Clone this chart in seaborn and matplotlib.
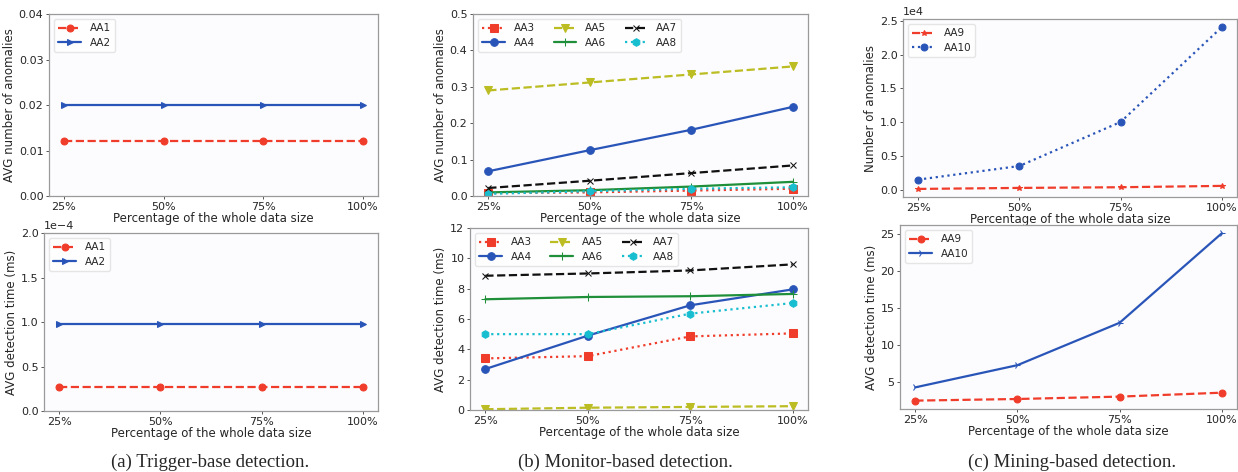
import numpy as np
import pandas as pd
import seaborn as sns
import matplotlib.pyplot as plt

# x categories
pcts = ['25%', '50%', '75%', '100%']

# (a) trigger-based
aa1_num = [0.012, 0.012, 0.012, 0.012]
aa2_num = [0.020, 0.020, 0.020, 0.020]
aa1_time = [0.27e-4, 0.27e-4, 0.27e-4, 0.27e-4]
aa2_time = [0.98e-4, 0.98e-4, 0.98e-4, 0.98e-4]

# (b) monitor-based
aa3_num = [0.008, 0.010, 0.015, 0.020]
aa4_num = [0.068, 0.126, 0.182, 0.245]
aa5_num = [0.290, 0.312, 0.334, 0.356]
aa6_num = [0.010, 0.016, 0.026, 0.039]
aa7_num = [0.022, 0.042, 0.063, 0.084]
aa8_num = [0.006, 0.013, 0.020, 0.024]
aa3_time = [3.40, 3.55, 4.85, 5.05]
aa4_time = [2.70, 4.90, 6.90, 7.95]
aa5_time = [0.05, 0.15, 0.20, 0.25]
aa6_time = [7.30, 7.45, 7.50, 7.65]
aa7_time = [8.85, 9.00, 9.20, 9.60]
aa8_time = [5.00, 5.00, 6.35, 7.05]

# (c) mining-based
aa9_num = [100, 250, 350, 550]
aa10_num = [1480, 3500, 10030, 24100]
aa9_time = [2.50, 2.72, 3.04, 3.57]
aa10_time = [4.29, 7.28, 12.99, 25.04]

captions = ['(a) Trigger-base detection.', '(b) Monitor-based detection.',
            '(c) Mining-based detection.']

RED = '#f03c2a'
BLUE = '#2a55b8'
OLIVE = '#bcbd22'
GREEN = '#1f8f3a'
CYAN = '#17becf'
BLACK = '#111111'

sns.set_style('white')
plt.rcParams['font.family'] = ['DejaVu Sans']

fig = plt.figure(figsize=(12.38, 4.72), dpi=100)
xs = np.arange(len(pcts))


def make_ax(rect):
    ax = fig.add_axes(rect)
    ax.set_facecolor('#fcfcfe')
    for s in ax.spines.values():
        s.set_color('#9a9a9a')
        s.set_linewidth(0.9)
    ax.tick_params(axis='both', labelsize=8, length=2.5, width=0.7,
                   color='#555555', pad=1.5, left=True, bottom=True)
    return ax


def draw(ax, series, ylabel, ncol=1):
    for label, vals, color, ls, mk, ms in series:
        sns.lineplot(x=xs, y=vals, ax=ax, color=color, linestyle=ls,
                     marker=mk, markersize=ms, linewidth=1.6,
                     markeredgecolor=color, label=label)
    ax.set_xticks(xs)
    ax.set_xticklabels(pcts)
    ax.set_xlabel('Percentage of the whole data size', fontsize=8.5, labelpad=0)
    ax.set_ylabel(ylabel, fontsize=8.5, labelpad=2)
    ax.legend(loc='upper left', ncol=ncol, fontsize=7.5, frameon=True,
              edgecolor='#e0e0e0', handlelength=2.2, columnspacing=1.8,
              borderpad=0.4, labelspacing=0.4, handletextpad=0.8)


# (a) top
ax = make_ax([0.0396, 0.5847, 0.2658, 0.3856])
draw(ax, [('AA1', aa1_num, RED, '--', 'o', 5),
          ('AA2', aa2_num, BLUE, '-', '>', 5)],
     'AVG number of anomalies')
ax.set_ylim(0, 0.04)
ax.set_yticks([0, 0.01, 0.02, 0.03, 0.04])

# (a) bottom
ax = make_ax([0.0355, 0.1292, 0.2698, 0.3771])
draw(ax, [('AA1', aa1_time, RED, '--', 'o', 5),
          ('AA2', aa2_time, BLUE, '-', '>', 5)],
     'AVG detection time (ms)')
ax.set_ylim(0, 2e-4)
ax.set_yticks([0, 0.5e-4, 1e-4, 1.5e-4, 2e-4])
ax.ticklabel_format(axis='y', style='sci', scilimits=(0, 0))
ax.yaxis.get_offset_text().set_fontsize(8)

# (b) top
ax = make_ax([0.3821, 0.5847, 0.2706, 0.3856])
draw(ax, [('AA3', aa3_num, RED, ':', 's', 5.5),
          ('AA4', aa4_num, BLUE, '-', 'o', 5.5),
          ('AA5', aa5_num, OLIVE, '--', 'v', 5.5),
          ('AA6', aa6_num, GREEN, '-', '+', 6),
          ('AA7', aa7_num, BLACK, '--', 'x', 5),
          ('AA8', aa8_num, CYAN, ':', 'h', 5.5)],
     'AVG number of anomalies', ncol=3)
ax.set_ylim(0, 0.5)

# (b) bottom
ax = make_ax([0.3796, 0.1314, 0.2730, 0.3856])
draw(ax, [('AA3', aa3_time, RED, ':', 's', 5.5),
          ('AA4', aa4_time, BLUE, '-', 'o', 5.5),
          ('AA5', aa5_time, OLIVE, '--', 'v', 5.5),
          ('AA6', aa6_time, GREEN, '-', '+', 6),
          ('AA7', aa7_time, BLACK, '--', 'x', 5),
          ('AA8', aa8_time, CYAN, ':', 'h', 5.5)],
     'AVG detection time (ms)', ncol=3)
ax.set_ylim(0, 12)

# (c) top
ax = make_ax([0.7294, 0.5826, 0.2698, 0.3771])
draw(ax, [('AA9', aa9_num, RED, '--', '*', 4),
          ('AA10', aa10_num, BLUE, ':', 'o', 5)],
     'Number of anomalies')
ax.ticklabel_format(axis='y', style='sci', scilimits=(0, 0))
ax.yaxis.get_offset_text().set_fontsize(8)

# (c) bottom
ax = make_ax([0.7270, 0.1335, 0.2722, 0.3898])
draw(ax, [('AA9', aa9_time, RED, '--', 'o', 5),
          ('AA10', aa10_time, BLUE, '-', '4', 5)],
     'AVG detection time (ms)')

for cx, cap in zip([210, 625, 1072], captions):
    fig.text(cx / 1238, 1 - 462 / 472, cap, ha='center', va='center',
             fontsize=13.5, family='Liberation Serif')

fig.savefig('out.png', dpi=100)
